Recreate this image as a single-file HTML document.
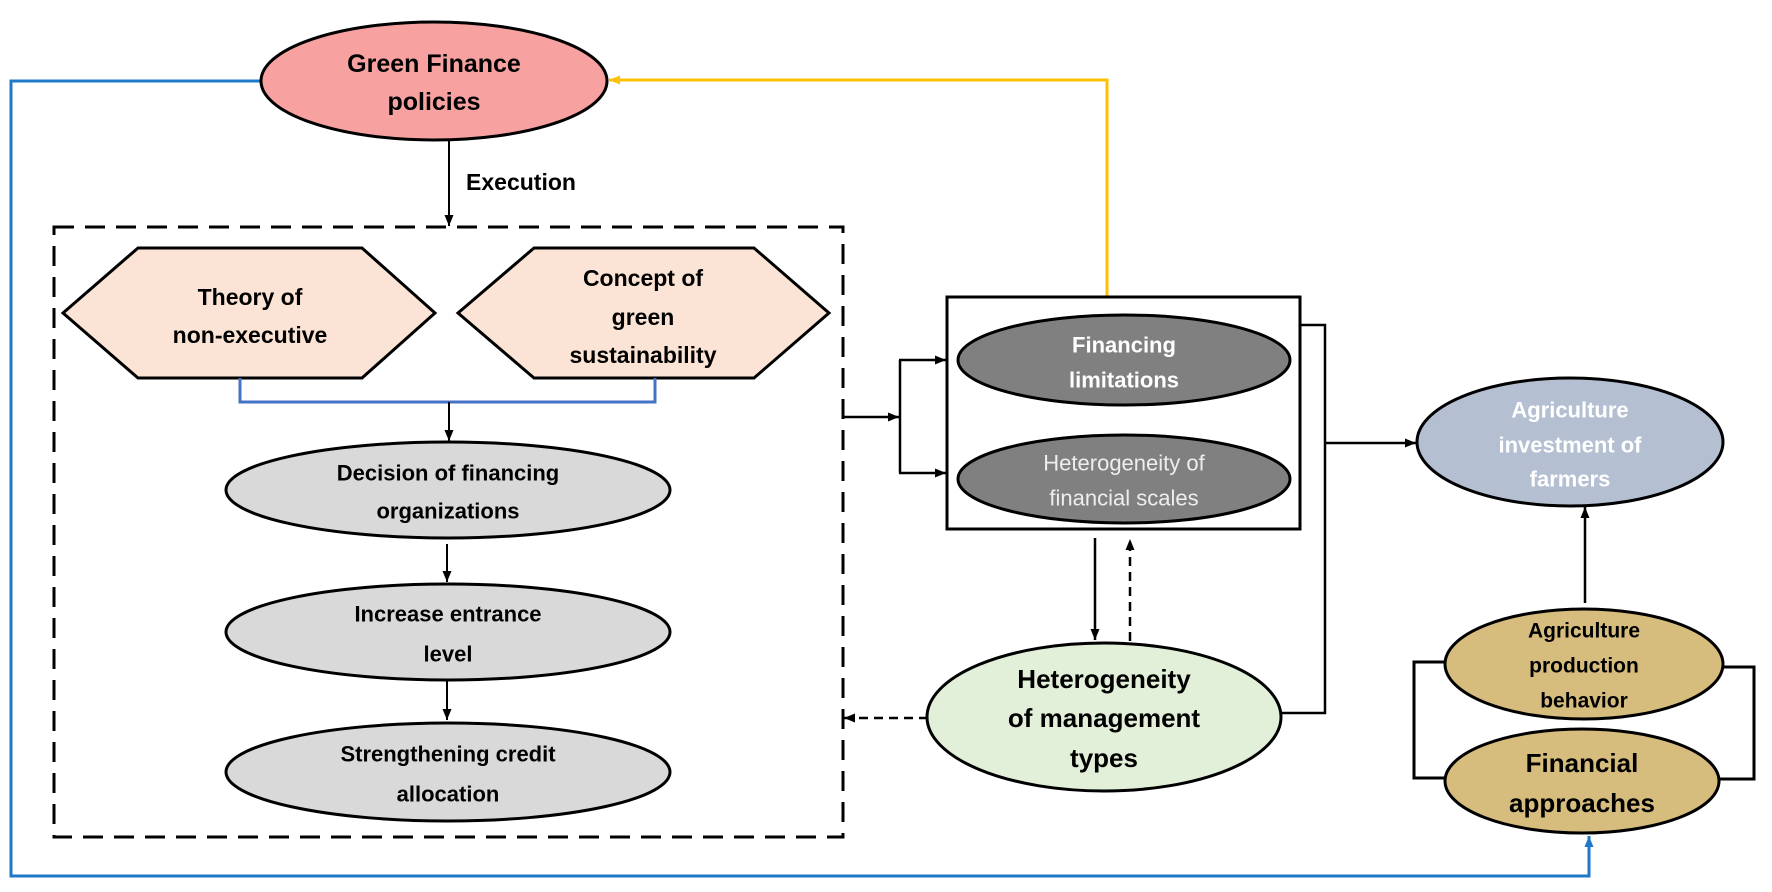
<!DOCTYPE html>
<html><head><meta charset="utf-8"><style>html,body{margin:0;padding:0;background:#fff}svg{display:block}text{font-family:"Liberation Sans",sans-serif;font-weight:bold;text-anchor:middle;dominant-baseline:central}</style></head>
<body>
<svg width="1772" height="892" viewBox="0 0 1772 892" xmlns="http://www.w3.org/2000/svg">
<defs>
<marker id="a" markerWidth="12" markerHeight="12" refX="11" refY="6" orient="auto" markerUnits="userSpaceOnUse"><path d="M0,1.5 L11,6 L0,10.5 z" fill="#000"/></marker>
<marker id="ay" markerWidth="12" markerHeight="12" refX="11" refY="6" orient="auto" markerUnits="userSpaceOnUse"><path d="M0,1.5 L11,6 L0,10.5 z" fill="#ffc000"/></marker>
<marker id="ab" markerWidth="12" markerHeight="12" refX="11" refY="6" orient="auto" markerUnits="userSpaceOnUse"><path d="M0,1.5 L11,6 L0,10.5 z" fill="#1f78c8"/></marker>
</defs>
<polyline points="261,81 11,81 11,876 1589,876 1589,836" fill="none" stroke="#1f78c8" stroke-width="3" marker-end="url(#ab)"/>
<polyline points="1107,297 1107,80 609,80" fill="none" stroke="#ffc000" stroke-width="3" marker-end="url(#ay)"/>
<ellipse cx="434" cy="81" rx="173" ry="59" fill="#f7a1a1" stroke="#000" stroke-width="3"/>
<text x="434" y="64" font-size="25">Green Finance</text>
<text x="434" y="102" font-size="25">policies</text>
<line x1="449" y1="140" x2="449" y2="226" stroke="#000" stroke-width="2" marker-end="url(#a)"/>
<text x="521" y="182" font-size="23">Execution</text>
<rect x="54" y="227" width="789" height="610" fill="none" stroke="#000" stroke-width="3" stroke-dasharray="20,11"/>
<polygon points="63,313 138,248 362,248 435,313 362,378 138,378" fill="#fbe4d5" stroke="#000" stroke-width="3"/>
<text x="250" y="297" font-size="23">Theory of</text>
<text x="250" y="335" font-size="23">non-executive</text>
<polygon points="458,313 534,248 754,248 829,313 754,378 534,378" fill="#fbe4d5" stroke="#000" stroke-width="3"/>
<text x="643" y="278" font-size="23">Concept of</text>
<text x="643" y="317" font-size="23">green</text>
<text x="643" y="355" font-size="23">sustainability</text>
<polyline points="240,378 240,402 655,402 655,378" fill="none" stroke="#4472c4" stroke-width="3"/>
<line x1="449" y1="402" x2="449" y2="441" stroke="#000" stroke-width="2" marker-end="url(#a)"/>
<ellipse cx="448" cy="490" rx="222" ry="48" fill="#d9d9d9" stroke="#000" stroke-width="3"/>
<text x="448" y="473" font-size="22">Decision of financing</text>
<text x="448" y="511" font-size="22">organizations</text>
<line x1="447" y1="544" x2="447" y2="582" stroke="#000" stroke-width="2" marker-end="url(#a)"/>
<ellipse cx="448" cy="632" rx="222" ry="48" fill="#d9d9d9" stroke="#000" stroke-width="3"/>
<text x="448" y="614" font-size="22">Increase entrance</text>
<text x="448" y="654" font-size="22">level</text>
<line x1="447" y1="681" x2="447" y2="720" stroke="#000" stroke-width="2" marker-end="url(#a)"/>
<ellipse cx="448" cy="772" rx="222" ry="49" fill="#d9d9d9" stroke="#000" stroke-width="3"/>
<text x="448" y="754" font-size="22">Strengthening credit</text>
<text x="448" y="794" font-size="22">allocation</text>
<rect x="947" y="297" width="353" height="232" fill="#fff" stroke="#000" stroke-width="3"/>
<line x1="843" y1="417" x2="899" y2="417" stroke="#000" stroke-width="2.5" marker-end="url(#a)"/>
<polyline points="900,360 900,473" fill="none" stroke="#000" stroke-width="2.5"/>
<line x1="899" y1="360" x2="946" y2="360" stroke="#000" stroke-width="2.5" marker-end="url(#a)"/>
<line x1="899" y1="473" x2="946" y2="473" stroke="#000" stroke-width="2.5" marker-end="url(#a)"/>
<ellipse cx="1124" cy="360" rx="166" ry="45" fill="#808080" stroke="#000" stroke-width="3"/>
<text x="1124" y="345" font-size="22" fill="#fff">Financing</text>
<text x="1124" y="380" font-size="22" fill="#fff">limitations</text>
<ellipse cx="1124" cy="479" rx="166" ry="44" fill="#808080" stroke="#000" stroke-width="3"/>
<text x="1124" y="463" font-size="22" fill="#eee" style="font-weight:normal">Heterogeneity of</text>
<text x="1124" y="498" font-size="22" fill="#eee" style="font-weight:normal">financial  scales</text>
<polyline points="1300,325 1325,325 1325,713 1281,713" fill="none" stroke="#000" stroke-width="2.5"/>
<line x1="1325" y1="443" x2="1416" y2="443" stroke="#000" stroke-width="2.5" marker-end="url(#a)"/>
<line x1="1095" y1="538" x2="1095" y2="640" stroke="#000" stroke-width="2.5" marker-end="url(#a)"/>
<line x1="1130" y1="641" x2="1130" y2="539" stroke="#000" stroke-width="2.5" stroke-dasharray="9,6" marker-end="url(#a)"/>
<line x1="928" y1="718" x2="844" y2="718" stroke="#000" stroke-width="2.5" stroke-dasharray="9,6" marker-end="url(#a)"/>
<ellipse cx="1104" cy="717" rx="177" ry="74" fill="#e2efd9" stroke="#000" stroke-width="3"/>
<text x="1104" y="679" font-size="26">Heterogeneity</text>
<text x="1104" y="718" font-size="26">of management</text>
<text x="1104" y="758" font-size="26">types</text>
<ellipse cx="1570" cy="442" rx="153" ry="64" fill="#b4c0d2" stroke="#000" stroke-width="3"/>
<text x="1570" y="410" font-size="22" fill="#fff">Agriculture</text>
<text x="1570" y="445" font-size="22" fill="#fff">investment of</text>
<text x="1570" y="479" font-size="22" fill="#fff">farmers</text>
<line x1="1585" y1="603" x2="1585" y2="507" stroke="#000" stroke-width="2.5" marker-end="url(#a)"/>
<polyline points="1447,662 1414,662 1414,778 1447,778" fill="none" stroke="#000" stroke-width="3"/>
<polyline points="1721,667 1754,667 1754,779 1719,779" fill="none" stroke="#000" stroke-width="3"/>
<ellipse cx="1584" cy="664" rx="139" ry="55" fill="#d6bd7d" stroke="#000" stroke-width="3"/>
<text x="1584" y="631" font-size="21">Agriculture</text>
<text x="1584" y="666" font-size="21">production</text>
<text x="1584" y="701" font-size="21">behavior</text>
<ellipse cx="1582" cy="781" rx="137" ry="52" fill="#d6bd7d" stroke="#000" stroke-width="3"/>
<text x="1582" y="763" font-size="26">Financial</text>
<text x="1582" y="803" font-size="26">approaches</text>
</svg>
</body></html>
